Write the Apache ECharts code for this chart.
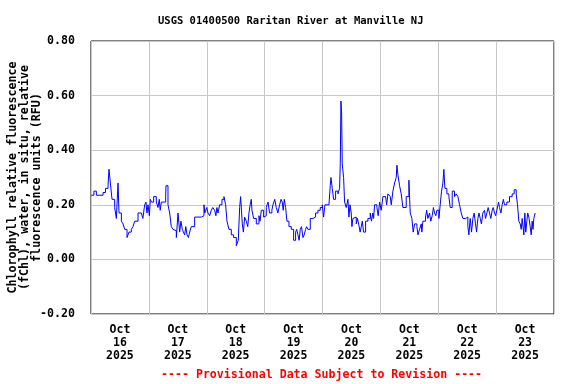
<!DOCTYPE html>
<html><head><meta charset="utf-8">
<script src="https://cdn.jsdelivr.net/npm/echarts@6/dist/echarts.min.js"></script>
<style>html,body{margin:0;padding:0;background:#fff}#c{width:576px;height:384px}</style>
</head><body><div id="c"></div>
<script>
// hours since Oct 16 2025 00:00
const hours = [
  0.15,1.2,2.22,4.99,6.0,7.06,7.47,8.03,8.72,9.82,10.51,11.21,11.62,12.59,13.28,13.97,14.94,15.76,16.73,17.42,18.11,19.5,20.88,21.5,22.26,22.8,23.2,23.64,
  24.2,24.6,25.02,25.99,27.09,27.79,28.3,28.7,29.17,30.13,30.96,31.1,31.93,32.62,33.31,34.0,34.69,35.39,36.08,36.77,37.3,37.87,38.3,38.84,39.3,39.81,40.4,40.91,41.6,42.98,44.37,45.75,46.85,47.2,
  48.0,48.51,49.2,49.89,50.5,51.27,51.8,52.2,52.65,53.35,54.31,55.14,55.83,56.39,57.21,58.18,59.15,60.26,61.08,61.64,62.05,62.74,63.2,63.71,64.4,65.0,65.51,66.0,66.47,66.75,67.44,68.55,69.65,70.1,70.62,71.59,
  72.2,72.69,73.4,74.07,75.0,75.45,76.2,76.84,77.5,78.22,78.8,79.32,79.7,80.15,80.7,81.26,82.09,83.05,84.02,84.85,85.3,85.82,86.3,86.79,87.3,87.89,88.4,88.99,89.4,89.96,90.93,92.03,93.14,94.11,95.07,95.9,
  96.46,97.01,97.84,98.67,99.22,99.5,100.05,100.6,101.43,102.4,103.09,103.37,103.64,103.92,104.19,104.75,105.16,105.85,106.54,106.96,107.4,107.92,108.2,108.61,109.31,110.0,110.5,111.1,111.6,112.07,112.5,113.04,113.87,114.83,115.8,116.3,116.9,117.2,117.6,118.56,119.1,119.67,
  120.36,121.05,122.16,122.6,123.12,123.81,124.1,124.5,125.2,125.89,126.58,126.86,127.27,127.96,128.65,129.34,130.03,130.72,131.41,131.83,132.38,133.07,133.6,134.18,135.14,135.6,136.25,136.94,137.2,137.63,138.74,139.2,139.7,140.39,140.9,141.5,142.0,142.46,143.0,143.43,
  144.26,144.81,145.37,145.92,146.33,146.75,147.58,148.41,148.96,149.79,150.75,151.45,152.14,152.83,153.52,154.21,155.32,156.28,156.7,157.25,157.8,158.36,158.9,159.46,159.9,160.43,160.9,161.4,161.9,162.5,163.19,163.6,164.16,164.7,165.26,165.8,166.37,166.8,167.34,167.8,
  168.3,169.0,169.41,170.0,170.51,171.0,171.48,172.45,173.55,174.66,175.49,176.32,176.87,177.42,177.98,178.4,178.81,179.5,179.91,180.3,180.74,181.1,181.57,182.12,182.54,182.95,183.3,183.64,184.19
];
// chlorophyll fluorescence, RFU
const fchl = [
  0.235,0.25,0.235,0.245,0.26,0.27,0.33,0.28,0.22,0.19,0.15,0.28,0.17,0.14,0.13,0.11,0.08,0.10,0.11,0.12,0.14,0.17,0.17,0.15,0.20,0.21,0.17,0.20,
  0.16,0.22,0.21,0.23,0.21,0.19,0.22,0.18,0.21,0.21,0.23,0.27,0.20,0.17,0.12,0.11,0.105,0.08,0.17,0.10,0.14,0.11,0.10,0.09,0.12,0.09,0.08,0.10,0.12,0.155,0.155,0.16,0.20,0.17,
  0.19,0.17,0.16,0.18,0.19,0.18,0.16,0.19,0.17,0.20,0.22,0.23,0.20,0.14,0.11,0.09,0.08,0.05,0.07,0.19,0.23,0.13,0.10,0.155,0.14,0.12,0.17,0.20,0.22,0.18,0.15,0.13,0.16,0.14,0.18,0.155,
  0.16,0.19,0.21,0.17,0.18,0.20,0.22,0.19,0.17,0.20,0.22,0.21,0.18,0.22,0.19,0.14,0.12,0.11,0.07,0.10,0.11,0.09,0.07,0.11,0.12,0.08,0.09,0.11,0.12,0.11,0.15,0.155,0.17,0.18,0.19,0.20,
  0.155,0.20,0.20,0.20,0.27,0.30,0.26,0.22,0.25,0.24,0.26,0.35,0.58,0.54,0.35,0.30,0.21,0.19,0.22,0.155,0.20,0.17,0.12,0.15,0.155,0.13,0.15,0.125,0.10,0.12,0.14,0.10,0.14,0.15,0.17,0.14,0.17,0.15,0.20,0.19,0.16,0.21,
  0.18,0.23,0.23,0.20,0.24,0.245,0.23,0.20,0.25,0.28,0.30,0.345,0.31,0.27,0.24,0.19,0.19,0.23,0.23,0.29,0.17,0.15,0.10,0.13,0.12,0.09,0.11,0.13,0.10,0.14,0.155,0.18,0.15,0.17,0.14,0.16,0.19,0.17,0.16,0.18,
  0.15,0.20,0.25,0.28,0.33,0.26,0.24,0.23,0.19,0.25,0.23,0.24,0.23,0.20,0.17,0.15,0.155,0.12,0.09,0.15,0.10,0.15,0.17,0.13,0.10,0.15,0.17,0.15,0.13,0.17,0.18,0.15,0.17,0.19,0.17,0.15,0.18,0.19,0.17,0.16,
  0.18,0.21,0.19,0.17,0.20,0.22,0.20,0.21,0.23,0.24,0.255,0.24,0.20,0.14,0.13,0.11,0.15,0.09,0.17,0.10,0.14,0.17,0.155,0.12,0.09,0.14,0.11,0.15,0.17
];
const dayLabels = ['Oct\n16\n2025','Oct\n17\n2025','Oct\n18\n2025','Oct\n19\n2025','Oct\n20\n2025','Oct\n21\n2025','Oct\n22\n2025','Oct\n23\n2025'];
const titleText = 'USGS 01400500 Raritan River at Manville NJ';
const footerText = '---- Provisional Data Subject to Revision ----';
const yName = 'Chlorophyll relative fluorescence\n(fChl), water, in situ, relative\nfluorescence units (RFU)';

const FONT = 'DejaVu Sans Mono';
const chart = echarts.init(document.getElementById('c'));
chart.setOption({
  animation: false,
  backgroundColor: '#fff',
  title: [
    {text: titleText, left: 158, top: 16, padding: 0, textStyle: {fontFamily: FONT, fontWeight: 'bold', fontSize: 10.5, color: '#000'}},
    {text: footerText, left: 161, top: 369, padding: 0, textStyle: {fontFamily: FONT, fontWeight: 'bold', fontSize: 11.6, color: '#ff0000'}}
  ],
  grid: {left: 91, right: 22, top: 41, bottom: 70, containLabel: false, outerBoundsMode: 'none',
         show: true, borderColor: '#000', borderWidth: 1, backgroundColor: 'transparent'},
  xAxis: [
    {type: 'value', min: 0, max: 192, interval: 24,
     axisLine: {show: false}, axisTick: {show: false}, axisLabel: {show: false},
     splitLine: {show: true, lineStyle: {color: '#c8c8c8', width: 1}}},
    {type: 'value', min: 0, max: 192, interval: 12, position: 'bottom',
     axisLine: {show: false}, axisTick: {show: false}, splitLine: {show: false},
     axisLabel: {show: true, margin: 10, fontFamily: FONT, fontWeight: 'bold', fontSize: 11.5, color: '#000', lineHeight: 13,
       formatter: v => (v % 24 === 12) ? dayLabels[(v - 12) / 24] : ''}}
  ],
  yAxis: {type: 'value', min: -0.2, max: 0.8, interval: 0.2,
    name: yName, nameLocation: 'middle', nameGap: 48, nameRotate: 90, nameMoveOverlap: false,
    nameTextStyle: {fontFamily: FONT, fontWeight: 'bold', fontSize: 11.7, color: '#000', lineHeight: 12, align: 'center'},
    axisLine: {show: false}, axisTick: {show: false},
    axisLabel: {margin: 16, fontFamily: FONT, fontWeight: 'bold', fontSize: 11.6, color: '#000', formatter: v => v.toFixed(2)},
    splitLine: {show: true, lineStyle: {color: '#c8c8c8', width: 1}}},
  series: [{type: 'line', xAxisIndex: 0, step: 'end', data: hours.map((h, i) => [h, fchl[i]]),
    showSymbol: false, lineStyle: {color: '#0000ff', width: 1}, itemStyle: {color: '#0000ff'}}]
});
</script></body></html>
